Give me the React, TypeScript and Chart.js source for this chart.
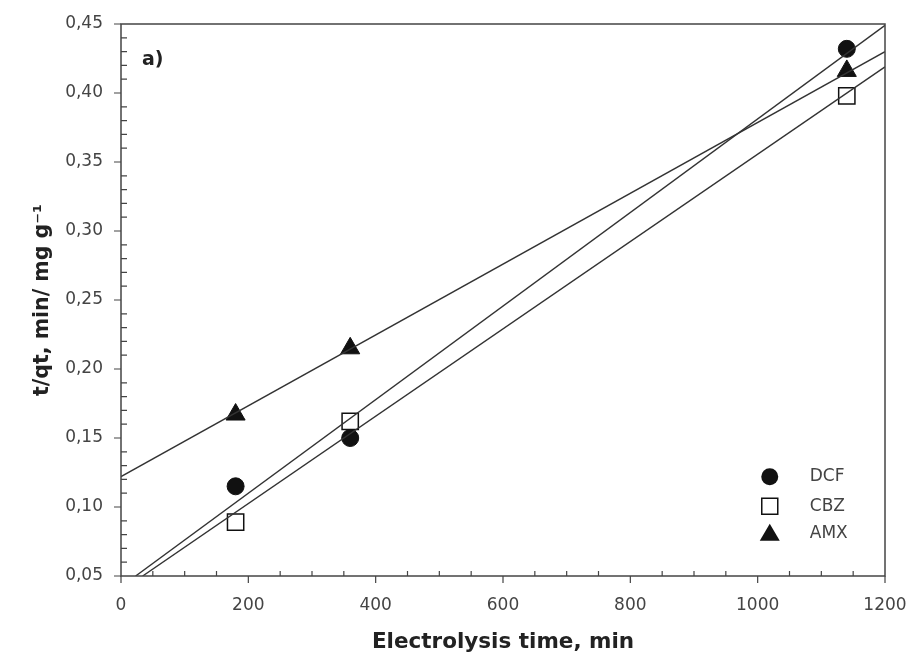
import React, { useEffect, useRef } from "react";
import { Chart, registerables } from "chart.js";

Chart.register(...registerables);

// Measured data (electrolysis time, min)
const times = [180, 360, 1140];
const dcfValues = [0.115, 0.15, 0.432];
const cbzValues = [0.089, 0.162, 0.398];
const amxValues = [0.167, 0.215, 0.416];

// Fitted lines (end points)
const dcfFitX = [23, 1200];
const dcfFitY = [0.05, 0.449];
const cbzFitX = [34, 1200];
const cbzFitY = [0.05, 0.419];
const amxFitX = [0, 1200];
const amxFitY = [0.122, 0.43];

const seriesNames = ["DCF", "CBZ", "AMX"];
const xMin = 0, xMax = 1200, xStep = 200, xMinorStep = 50;
const yMin = 0.05, yMax = 0.45, yStep = 0.05, yMinorStep = 0.01;
const panelLabel = "a)";
const xTitle = "Electrolysis time, min";
const yTitle = "t/qt, min/ mg g\u207B\u00B9";

const FONT = "'DejaVu Sans', 'Liberation Sans', Arial, sans-serif";

const toPts = (xs: number[], ys: number[]) => xs.map((x, i) => ({ x, y: ys[i] }));

function drawMarker(ctx: CanvasRenderingContext2D, style: string, x: number, y: number) {
  ctx.save();
  ctx.lineWidth = 1.5;
  ctx.strokeStyle = "#111";
  ctx.fillStyle = "#111";
  ctx.beginPath();
  if (style === "circle") {
    ctx.arc(x, y, 8.5, 0, Math.PI * 2);
    ctx.fill();
  } else if (style === "rect") {
    ctx.fillStyle = "#fff";
    ctx.rect(x - 8, y - 8, 16, 16);
    ctx.fill();
    ctx.stroke();
  } else {
    ctx.moveTo(x, y - 9.5);
    ctx.lineTo(x + 10, y + 7.5);
    ctx.lineTo(x - 10, y + 7.5);
    ctx.closePath();
    ctx.fill();
  }
  ctx.restore();
}

const framePlugin = {
  id: "frameTicks",
  afterDatasetsDraw(chart: any) {
    const { ctx, chartArea } = chart;
    const xs = chart.scales.x;
    const ys = chart.scales.y;
    const { left, right, top, bottom } = chartArea;
    ctx.save();
    ctx.strokeStyle = "#444";
    ctx.lineWidth = 1.5;
    ctx.strokeRect(left, top, right - left, bottom - top);
    ctx.lineWidth = 1.2;
    ctx.beginPath();
    // x ticks
    for (let v = xMin; v <= xMax + 0.001; v += xMinorStep) {
      const px = xs.getPixelForValue(v);
      const major = Math.abs(v / xStep - Math.round(v / xStep)) < 1e-6;
      if (major) {
        ctx.moveTo(px, bottom);
        ctx.lineTo(px, bottom + 7);
      } else {
        ctx.moveTo(px, bottom);
        ctx.lineTo(px, bottom - 5);
      }
    }
    // y ticks
    const n = Math.round((yMax - yMin) / yMinorStep);
    for (let i = 0; i <= n; i++) {
      const v = yMin + i * yMinorStep;
      const py = ys.getPixelForValue(v);
      if (i % Math.round(yStep / yMinorStep) === 0) {
        ctx.moveTo(left, py);
        ctx.lineTo(left - 7, py);
      } else {
        ctx.moveTo(left, py);
        ctx.lineTo(left + 6, py);
      }
    }
    ctx.stroke();

    // panel label
    ctx.fillStyle = "#222";
    ctx.font = "bold 19px " + FONT;
    ctx.textBaseline = "middle";
    ctx.textAlign = "left";
    ctx.fillText(panelLabel, left + 21, top + 36);

    // legend
    const styles = ["circle", "rect", "triangle"];
    const lx = xs.getPixelForValue(1019);
    const rowY = [ys.getPixelForValue(0.122), ys.getPixelForValue(0.1005), ys.getPixelForValue(0.081)];
    ctx.font = "17px " + FONT;
    seriesNames.forEach((name, i) => {
      drawMarker(ctx, styles[i], lx, rowY[i]);
      ctx.fillStyle = "#444";
      ctx.fillText(name, lx + 40, rowY[i]);
    });
    ctx.restore();
  },
};

export default function App() {
  const canvasRef = useRef<HTMLCanvasElement | null>(null);

  useEffect(() => {
    if (!canvasRef.current) return;
    const lineStyle = {
      type: "line" as const,
      showLine: true,
      borderColor: "#333",
      borderWidth: 1.4,
      pointRadius: 0,
      fill: false,
    };
    const chart = new Chart(canvasRef.current, {
      type: "scatter",
      data: {
        datasets: [
          { ...lineStyle, label: "DCF fit", data: toPts(dcfFitX, dcfFitY) },
          { ...lineStyle, label: "CBZ fit", data: toPts(cbzFitX, cbzFitY) },
          { ...lineStyle, label: "AMX fit", data: toPts(amxFitX, amxFitY) },
          {
            label: seriesNames[0],
            data: toPts(times, dcfValues),
            pointStyle: "circle",
            pointRadius: 8.5,
            backgroundColor: "#111",
            borderColor: "#111",
            borderWidth: 1,
          },
          {
            label: seriesNames[1],
            data: toPts(times, cbzValues),
            pointStyle: "rect",
            pointRadius: 11.5,
            backgroundColor: "#fff",
            borderColor: "#111",
            borderWidth: 1.5,
          },
          {
            label: seriesNames[2],
            data: toPts(times, amxValues),
            pointStyle: "triangle",
            pointRadius: 11,
            backgroundColor: "#111",
            borderColor: "#111",
            borderWidth: 1,
          },
        ] as any,
      },
      options: {
        animation: false,
        responsive: true,
        maintainAspectRatio: false,
        layout: { padding: { top: 24, right: 30, left: 0, bottom: 0 } },
        plugins: {
          legend: { display: false },
          tooltip: { enabled: false },
        },
        scales: {
          x: {
            type: "linear",
            min: xMin,
            max: xMax,
            grid: { display: false, drawTicks: false },
            border: { display: false },
            ticks: {
              stepSize: xStep,
              padding: 19,
              color: "#444",
              font: { size: 17, family: FONT },
              maxRotation: 0,
              callback: (v: any) => String(v),
            },
            title: {
              display: true,
              text: xTitle,
              color: "#222",
              font: { size: 21.5, weight: "bold", family: FONT },
              padding: { top: 0, bottom: 8 },
            },
            afterFit: (s: any) => {
              s.height = 87;
              s.paddingLeft = 0;
              s.paddingRight = 0;
            },
          },
          y: {
            type: "linear",
            min: yMin,
            max: yMax,
            grid: { display: false, drawTicks: false },
            border: { display: false },
            ticks: {
              stepSize: yStep,
              padding: 18,
              color: "#444",
              font: { size: 17, family: FONT },
              callback: (v: any) => Number(v).toFixed(2).replace(".", ","),
            },
            title: {
              display: true,
              text: yTitle,
              color: "#222",
              font: { size: 20.5, weight: "bold", family: FONT },
              padding: { top: 30, bottom: 0 },
            },
            afterFit: (s: any) => {
              s.width = 121;
              s.paddingTop = 0;
              s.paddingBottom = 0;
            },
          },
        },
      } as any,
      plugins: [framePlugin],
    });
    return () => chart.destroy();
  }, []);

  return (
    <div style={{ position: "absolute", left: 0, top: 0, width: 915, height: 663, background: "#fff" }}>
      <canvas ref={canvasRef} />
    </div>
  );
}
